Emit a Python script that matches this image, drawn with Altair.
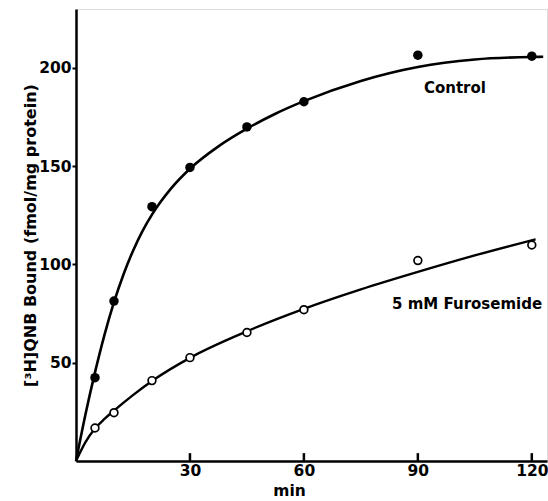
import altair as alt
import pandas as pd

# Measured points (minutes, fmol/mg protein)
time_points = [5, 10, 20, 30, 45, 60, 90, 120]
control_bound = [42.4, 81.4, 129.4, 149.4, 170, 182.8, 206.5, 206]
furosemide_bound = [16.8, 24.6, 40.9, 52.6, 65.4, 77, 102, 109.9]

# Fitted curves
control_curve_t = [0, 2.5, 5, 7.5, 10, 12.5, 15, 17.5, 20, 25, 30, 37.5, 45, 52.5, 60, 75, 90, 105, 120, 123]
control_curve_v = [0, 23.8, 45.1, 64.2, 80.8, 94.9, 106.9, 117, 125.4, 138.6, 148.7, 160.1, 169.1, 176.7, 183.1, 193.4, 200.5, 204.3, 205.6, 205.7]
furo_curve_t = [0, 2.5, 5, 7.5, 10, 15, 20, 30, 45, 60, 75, 90, 105, 121]
furo_curve_v = [0, 9.6, 16.5, 21.4, 25.6, 33.5, 40.7, 52.5, 66, 77.4, 87.3, 96.2, 104.6, 112.8]

x_ticks = [30, 60, 90, 120]
y_ticks = [50, 100, 150, 200]

label_text = ["Control", "5 mM Furosemide"]
label_t = [91.6, 83.2]
label_v = [189.7, 79.9]

FONT = "DejaVu Sans"

pts = pd.DataFrame({
    "t": time_points * 2,
    "v": control_bound + furosemide_bound,
    "s": ["Control"] * len(time_points) + ["Furosemide"] * len(time_points),
})
cc = pd.DataFrame({"t": control_curve_t, "v": control_curve_v})
fc = pd.DataFrame({"t": furo_curve_t, "v": furo_curve_v})
ticks_df = pd.DataFrame({"t": x_ticks, "y0": [0] * len(x_ticks), "y1": [4] * len(x_ticks)})
labels_df = pd.DataFrame({"text": label_text, "t": label_t, "v": label_v})

xs = alt.Scale(domain=[0, 124], nice=False, zero=True)
ys = alt.Scale(domain=[0, 230], nice=False, zero=True)

x_axis = alt.Axis(values=x_ticks, title="min", ticks=False, grid=False,
                  domainColor="black", domainWidth=2.5,
                  labelFont=FONT, labelFontWeight="bold", labelFontSize=15.5, labelColor="black",
                  labelPadding=2,
                  titleFont=FONT, titleFontWeight="bold", titleFontSize=15.5, titleColor="black",
                  titleX=213, titleY=22, titleAnchor="start", titleAlign="center")
y_axis = alt.Axis(values=y_ticks, title="[³H]QNB Bound (fmol/mg protein)", grid=False,
                  domainColor="black", domainWidth=2.5, tickColor="black", tickWidth=2, tickSize=4,
                  labelFont=FONT, labelFontWeight="bold", labelFontSize=15.5, labelColor="black",
                  labelPadding=1,
                  titleFont=FONT, titleFontWeight="bold", titleFontSize=16, titleColor="black",
                  titleX=-46, titleY=226, titleAnchor="start", titleAlign="center", titleBaseline="middle")

X = alt.X("t:Q", scale=xs, axis=x_axis)
Y = alt.Y("v:Q", scale=ys, axis=y_axis)

line_c = alt.Chart(cc).mark_line(color="black", strokeWidth=2.6, interpolate="monotone").encode(x=X, y=Y)
line_f = alt.Chart(fc).mark_line(color="black", strokeWidth=2.4, interpolate="monotone").encode(
    x=alt.X("t:Q", scale=xs), y=alt.Y("v:Q", scale=ys))

filled = alt.Chart(pts).transform_filter(alt.datum.s == "Control").mark_point(
    shape="circle", filled=True, color="black", size=90, opacity=1).encode(
    x=alt.X("t:Q", scale=xs), y=alt.Y("v:Q", scale=ys))
opened = alt.Chart(pts).transform_filter(alt.datum.s == "Furosemide").mark_point(
    shape="circle", filled=True, fill="white", stroke="black", strokeWidth=1.7, size=60, opacity=1).encode(
    x=alt.X("t:Q", scale=xs), y=alt.Y("v:Q", scale=ys))

xt = alt.Chart(ticks_df).mark_rule(color="black", strokeWidth=2.5).encode(
    x=alt.X("t:Q", scale=xs), y=alt.Y("y0:Q", scale=ys), y2="y1:Q")

texts = alt.Chart(labels_df).mark_text(
    font=FONT, fontWeight="bold", fontSize=15, color="black", align="left", baseline="middle").encode(
    x=alt.X("t:Q", scale=xs), y=alt.Y("v:Q", scale=ys), text="text:N")

chart = alt.layer(line_c, line_f, xt, filled, opened, texts).properties(
    width=471, height=452,
    autosize=alt.AutoSizeParams(type="none"),
    padding={"left": 76, "top": 9, "right": 1, "bottom": 40},
).configure_view(stroke=None).configure(background="white")

chart.save("out.html", embed_options={"renderer": "svg", "actions": False})
